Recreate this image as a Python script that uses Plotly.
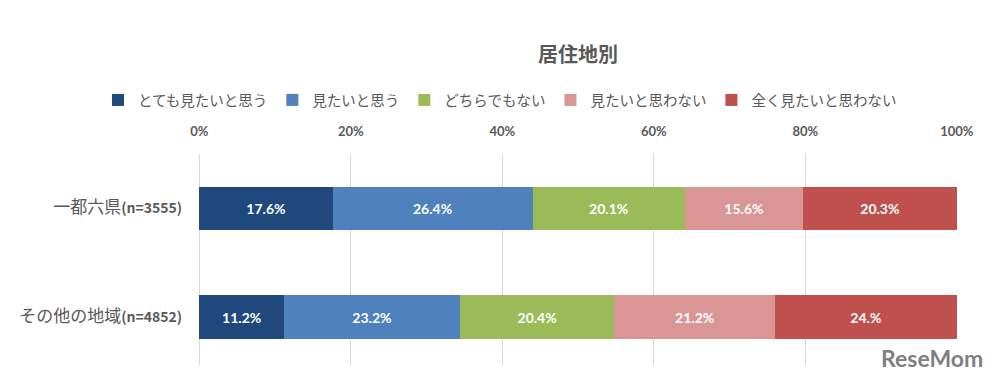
import plotly.graph_objects as go

regions = ["その他の地域", "一都六県"]
region_n = ["4852", "3555"]
series_names = ["とても見たいと思う", "見たいと思う", "どちらでもない", "見たいと思わない", "全く見たいと思わない"]
values = [
    [11.2, 17.6],
    [23.2, 26.4],
    [20.4, 20.1],
    [21.2, 15.6],
    [24.0, 20.3],
]
labels = [
    ["11.2%", "17.6%"],
    ["23.2%", "26.4%"],
    ["20.4%", "20.1%"],
    ["21.2%", "15.6%"],
    ["24.%", "20.3%"],
]
colors = ["#1F497D", "#4F81BD", "#9BBB59", "#DA9694", "#C0504D"]
tick_vals = [0, 20, 40, 60, 80, 100]
tick_text = ["0%", "20%", "40%", "60%", "80%", "100%"]

jp = "Noto Sans CJK JP"
gray = "#595959"
grid = "#D9D9D9"

ylabels = [f"<span style='font-size:17px'>{r}</span><b>(n={n})</b>" for r, n in zip(regions, region_n)]

fig = go.Figure()
for name, vals, txt, col in zip(series_names, values, labels, colors):
    fig.add_trace(go.Bar(
        y=ylabels, x=vals, name=name, orientation="h",
        marker=dict(color=col, line=dict(width=0)),
        text=txt, textposition="inside", insidetextanchor="middle",
        textfont=dict(color="white", size=14, family="Lato"),
        texttemplate="<b>%{text}</b>",
        width=0.4,
        hoverinfo="skip",
    ))

PW, PH = 758, 211
fig.update_layout(
    barmode="stack",
    width=995, height=379,
    margin=dict(l=199, r=38, t=154, b=14, autoexpand=False),
    paper_bgcolor="white", plot_bgcolor="white",
    font=dict(family=jp, color=gray, size=13),
    title=dict(text="<b>居住地別</b>", x=0.5, xanchor="center", y=1 - 55 / 379, yanchor="middle",
               xref="paper", font=dict(size=20, color=gray, family=jp)),
    legend=dict(orientation="h", xref="paper", yref="paper",
                x=(98 - 199) / PW, xanchor="left", y=1 + (154 - 100) / PH, yanchor="middle",
                font=dict(size=14.5, color=gray, family=jp), traceorder="normal",
                itemwidth=30, tracegroupgap=0),
    xaxis=dict(range=[-0.03, 100.03], side="top", tickvals=tick_vals, ticktext=tick_text,
               showgrid=True, gridcolor=grid, gridwidth=1,
               zeroline=True, zerolinecolor=grid, zerolinewidth=1,
               showline=False, ticks="", ticklabelstandoff=14,
               tickfont=dict(family="Lato", size=13, color=gray, weight="bold"),
               fixedrange=True, automargin=False),
    yaxis=dict(range=[-0.44, 1.5], showgrid=False, showline=False, ticks="",
               ticklabelstandoff=16, tickfont=dict(family=jp, size=14, color=gray),
               fixedrange=True, automargin=False),
    bargap=0.6,
)

fig.add_annotation(text="<b>ReseMom</b>", xref="paper", yref="paper",
                   x=(985 - 199) / PW, y=(365 - 358) / PH, xanchor="right", yanchor="middle",
                   showarrow=False, font=dict(family="Lato", size=23, color="#7F7F7F"))

fig.write_html("out.html", config={"displayModeBar": False},
               post_script="document.body.style.margin='0';")
